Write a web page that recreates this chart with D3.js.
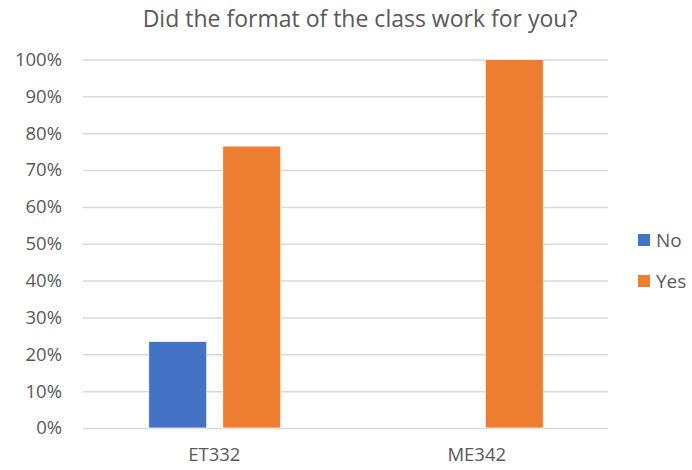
<!DOCTYPE html>
<html>
<head>
<meta charset="utf-8">
<script src="https://cdn.jsdelivr.net/npm/d3@7"></script>
<style>
  body { margin: 0; background: #fff; }
  text { font-family: "Open Sans", sans-serif; fill: #595959; }
</style>
</head>
<body>
<svg id="chart" width="692" height="470"></svg>
<script>
/************
** data
*************/
var categories = ["ET332", "ME342"];
var seriesNames = ["No", "Yes"];
var noValues = [0.235, 0];
var yesValues = [0.765, 1.0];
var yTicks = [0, 0.1, 0.2, 0.3, 0.4, 0.5, 0.6, 0.7, 0.8, 0.9, 1.0];

/************
** colors
*************/
var blue = "#4472C4";
var orange = "#ED7D31";
var gridColor = "#d9d9d9";

var svg = d3.select("#chart");
var margin = { left: 83, right: 84, top: 59.5, bottom: 42 };
var width = 692 - margin.left - margin.right;
var height = 470 - margin.top - margin.bottom;

var g = svg.append("g").attr("transform", "translate(" + margin.left + "," + margin.top + ")");

var x = d3.scaleBand().domain(categories).range([0, width]);
var xInner = d3.scaleBand().domain(seriesNames).range([0, 132]).paddingInner(16 / 74);
var y = d3.scaleLinear().domain([0, 1]).range([height, 0]);

// title
svg.append("text")
    .attr("x", 360).attr("y", 27)
    .attr("text-anchor", "middle")
    .style("font-size", "23px")
    .text("Did the format of the class work for you?");

// gridlines + y labels
var yAxis = d3.axisLeft(y).tickValues(yTicks).tickSize(-width).tickPadding(21)
    .tickFormat(d3.format(".0%"));
g.append("g").call(yAxis)
    .call(function(a){
        a.select(".domain").remove();
        a.selectAll(".tick line").attr("stroke", gridColor).attr("stroke-width", 1.5);
        a.selectAll(".tick text").style("font-size", "18.5px").attr("fill", "#595959");
    });

// x axis
var xAxis = d3.axisBottom(x).tickSize(0).tickPadding(20);
g.append("g").attr("transform", "translate(0," + height + ")").call(xAxis)
    .call(function(a){
        a.select(".domain").remove();
        a.selectAll(".tick text").style("font-size", "18.5px").attr("fill", "#595959");
    });

// bars
var rows = categories.map(function(c, i){
    return { cat: c, vals: [ { s: "No", v: noValues[i] }, { s: "Yes", v: yesValues[i] } ] };
});
var color = d3.scaleOrdinal().domain(seriesNames).range([blue, orange]);

var groups = g.selectAll(".grp").data(rows).enter().append("g")
    .attr("transform", function(d){ return "translate(" + (x(d.cat) + (x.bandwidth() - 132) / 2 + 0.5) + ",0)"; });

groups.selectAll("rect").data(function(d){ return d.vals.filter(function(v){ return v.v > 0; }); })
    .enter().append("rect")
    .attr("x", function(d){ return xInner(d.s); })
    .attr("width", xInner.bandwidth())
    .attr("y", function(d){ return y(d.v); })
    .attr("height", function(d){ return height - y(d.v); })
    .attr("fill", function(d){ return color(d.s); })
    .attr("stroke", "#ffffff").attr("stroke-width", 0.75);

// legend
var legend = svg.append("g").attr("transform", "translate(638,234)");
seriesNames.forEach(function(s, i){
    var item = legend.append("g").attr("transform", "translate(0," + (i * 41) + ")");
    item.append("rect").attr("width", 12).attr("height", 12).attr("fill", color(s));
    item.append("text").attr("x", 18).attr("y", 12.5).style("font-size", "19px").text(s);
});
</script>
</body>
</html>
